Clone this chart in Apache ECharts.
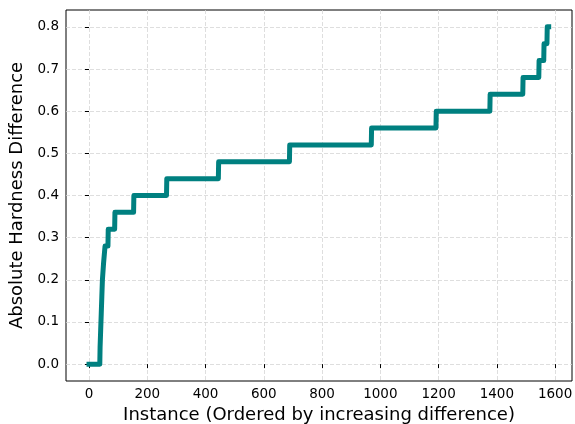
<!DOCTYPE html>
<html>
<head>
<meta charset="utf-8">
<script src="https://cdn.jsdelivr.net/npm/echarts@6/dist/echarts.min.js"></script>
<style>
    html, body { margin: 0; padding: 0; background: #fff; }
    #main { width: 575px; height: 424px; }
</style>
</head>
<body>
<div id="main"></div>
<script>
// levels of the sorted difference and the first instance at each level
var levels = [0, 0.04, 0.08, 0.12, 0.16, 0.2, 0.24, 0.28, 0.32, 0.36, 0.40, 0.44, 0.48, 0.52, 0.56, 0.60, 0.64, 0.68, 0.72, 0.76, 0.80];
var levelStart = [0, 38, 40, 42, 44, 46, 50, 55, 66, 89, 154, 267, 445, 689, 970, 1192, 1377, 1490, 1545, 1562, 1573];
var lastInstance = 1578;
var xTicks = [0, 200, 400, 600, 800, 1000, 1200, 1400, 1600];
var yTicks = [0, 0.1, 0.2, 0.3, 0.4, 0.5, 0.6, 0.7, 0.8];

var lineData = [];
for (var i = 0; i < levels.length; i++) {
    var end = i + 1 < levels.length ? levelStart[i + 1] - 1 : lastInstance;
    lineData.push([levelStart[i], levels[i]]);
    if (end > levelStart[i]) lineData.push([end, levels[i]]);
}

var myChart = echarts.init(document.getElementById('main'), null, {renderer: 'canvas'});
var font = 'DejaVu Sans';
var gridLine = {show: true, lineStyle: {color: '#d6d6d6', type: [4, 2], width: 0.8}};

var option = {
    animation: false,
    backgroundColor: '#fff',
    grid: {
        left: 66, right: 3, top: 10, bottom: 43,
        outerBoundsMode: 'none', containLabel: false,
        show: true, borderColor: '#000', borderWidth: 1, backgroundColor: 'transparent'
    },
    xAxis: {
        type: 'value',
        min: -79, max: 1658,
        name: 'Instance (Ordered by increasing difference)',
        nameLocation: 'middle', nameGap: 25,
        nameTextStyle: {fontFamily: font, fontSize: 18, color: '#000'},
        axisLine: {show: false},
        axisTick: {show: true, length: 4, inside: false, customValues: xTicks, lineStyle: {color: '#000'}},
        axisLabel: {fontFamily: font, fontSize: 13.5, color: '#000', margin: 6, customValues: xTicks,
            formatter: function (v) { return String(v); }},
        splitLine: gridLine
    },
    yAxis: {
        type: 'value',
        min: -0.04, max: 0.84,
        name: 'Absolute Hardness Difference',
        nameLocation: 'middle', nameGap: 31,
        nameTextStyle: {fontFamily: font, fontSize: 18, color: '#000'},
        axisLine: {show: false},
        axisTick: {show: true, length: 4, customValues: yTicks, lineStyle: {color: '#000'}},
        axisLabel: {fontFamily: font, fontSize: 13.5, color: '#000', margin: 7, customValues: yTicks,
            formatter: function (v) { return v.toFixed(1); }},
        splitLine: gridLine
    },
    series: [{
        type: 'line',
        data: lineData,
        showSymbol: false,
        lineStyle: {color: '#008080', width: 5, cap: 'square', join: 'round'},
        z: 3
    }]
};

myChart.setOption(option);
window.addEventListener('resize', function () { myChart.resize(); });
</script>
</body>
</html>
